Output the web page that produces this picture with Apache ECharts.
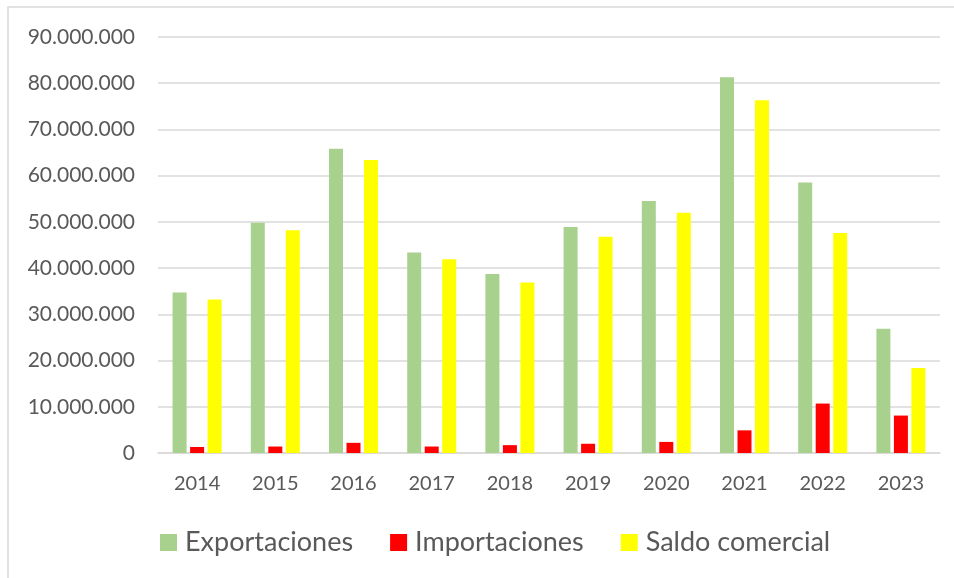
<!DOCTYPE html>
<html>
<head>
<meta charset="utf-8">
<script src="https://cdn.jsdelivr.net/npm/echarts@6/dist/echarts.min.js"></script>
<style>
  html, body { margin: 0; padding: 0; background: #fff; }
  #chart { width: 954px; height: 578px; }
</style>
</head>
<body>
<div id="chart"></div>
<script>
const years = ['2014', '2015', '2016', '2017', '2018', '2019', '2020', '2021', '2022', '2023'];
const exportaciones = [34700000, 49800000, 65800000, 43400000, 38700000, 48900000, 54500000, 81300000, 58500000, 26900000];
const importaciones = [1300000, 1400000, 2200000, 1400000, 1700000, 2000000, 2400000, 4900000, 10700000, 8100000];
const saldoComercial = [33200000, 48200000, 63400000, 41900000, 36900000, 46800000, 52000000, 76300000, 47600000, 18400000];

const font = 'Lato, "Open Sans", sans-serif';
const textColor = '#595959';

function fmt(v) {
  return String(v).replace(/\B(?=(\d{3})+(?!\d))/g, '.');
}

const chart = echarts.init(document.getElementById('chart'));

const option = {
  animation: false,
  graphic: [{
    type: 'rect',
    shape: { x: 8, y: 7, width: 1000, height: 700 },
    style: { fill: 'none', stroke: '#d9d9d9', lineWidth: 1.5 },
    silent: true,
  }],
  legend: {
    left: 155,
    top: 524,
    itemWidth: 17,
    itemHeight: 17,
    itemGap: 37,
    icon: 'rect',
    textStyle: { fontFamily: font, fontSize: 27, color: textColor, padding: [0, 0, 0, 3] },
    data: ['Exportaciones', 'Importaciones', 'Saldo comercial'],
  },
  grid: {
    left: 158,
    right: 14,
    top: 37,
    bottom: 125,
    containLabel: false,
  },
  xAxis: {
    type: 'category',
    data: years,
    axisLine: { lineStyle: { color: '#d9d9d9', width: 1.5 } },
    axisTick: { show: false },
    axisLabel: { fontFamily: font, fontSize: 20, color: textColor, margin: 21 },
  },
  yAxis: {
    type: 'value',
    min: 0,
    max: 90000000,
    interval: 10000000,
    axisLine: { show: false },
    axisTick: { show: false },
    splitLine: { lineStyle: { color: '#d9d9d9', width: 1.5 } },
    axisLabel: { fontFamily: font, fontSize: 21, color: textColor, margin: 23, formatter: fmt },
  },
  series: [
    {
      name: 'Exportaciones',
      type: 'bar',
      data: exportaciones,
      barWidth: 14,
      barGap: '25%',
      itemStyle: { color: '#a9d18e' },
    },
    {
      name: 'Importaciones',
      type: 'bar',
      data: importaciones,
      barWidth: 14,
      barGap: '25%',
      itemStyle: { color: '#ff0000' },
    },
    {
      name: 'Saldo comercial',
      type: 'bar',
      data: saldoComercial,
      barWidth: 14,
      barGap: '25%',
      itemStyle: { color: '#ffff00' },
    },
  ],
};

chart.setOption(option);
</script>
</body>
</html>
